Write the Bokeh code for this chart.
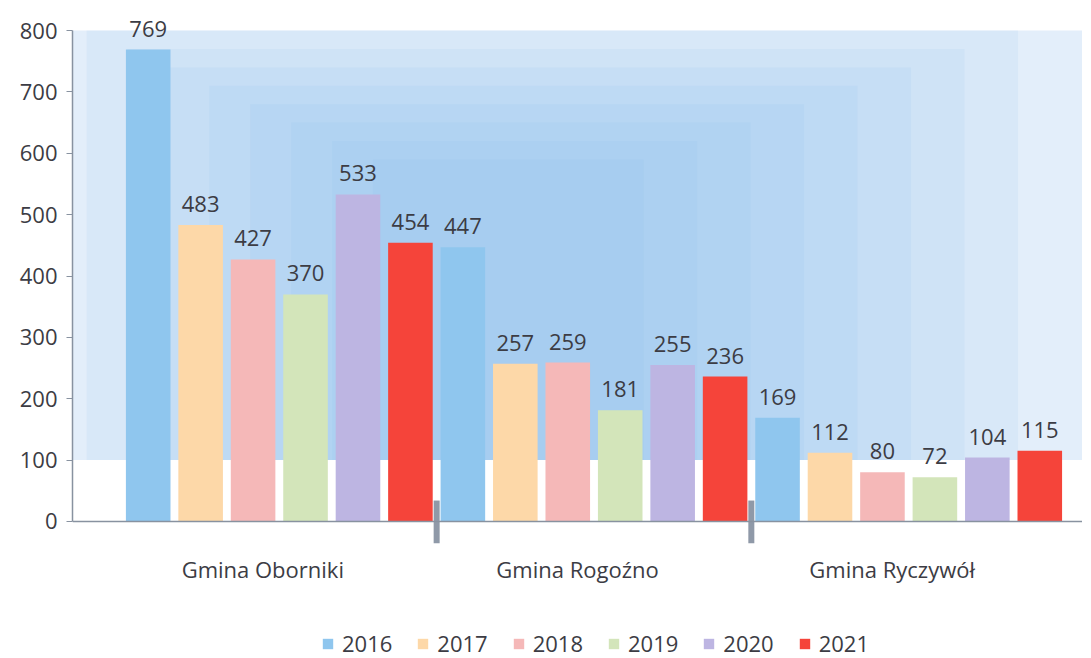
from bokeh.plotting import figure
from bokeh.layouts import column
from bokeh.models import (FactorRange, Range1d, BoxAnnotation, Span, Legend, LegendItem,
                          ColumnDataSource, FixedTicker)
from bokeh.transform import dodge
from bokeh.core.properties import value
from bokeh.embed import file_html
from bokeh.resources import INLINE

groups = ["Gmina Oborniki", "Gmina Rogoźno", "Gmina Ryczywół"]
years = ["2016", "2017", "2018", "2019", "2020", "2021"]
v2016 = [769, 447, 169]
v2017 = [483, 257, 112]
v2018 = [427, 259, 80]
v2019 = [370, 181, 72]
v2020 = [533, 255, 104]
v2021 = [454, 236, 115]
series = [v2016, v2017, v2018, v2019, v2020, v2021]
colors = ["#8fc6ee", "#fdd8a8", "#f5b8b8", "#d3e5ba", "#bdb5e2", "#f5443a"]
y_ticks = [0, 100, 200, 300, 400, 500, 600, 700, 800]

TEXT = "#3c3c44"
FONT = "Open Sans"

data = {"group": groups}
for y, vals in zip(years, series):
    data["v" + y] = vals
    data["t" + y] = [str(v) for v in vals]
src = ColumnDataSource(data)
sep_src = ColumnDataSource({"group": groups[1:]})

shift = 0.0524
x_range = FactorRange(*groups, range_padding=2 * shift, range_padding_units="absolute")
y_range = Range1d(-36, 836)

p = figure(x_range=x_range, y_range=y_range, frame_width=1010, frame_height=535,
           min_border_left=72, min_border_right=0, min_border_top=8, min_border_bottom=50,
           output_backend="svg", toolbar_location=None, outline_line_color=None,
           background_fill_color="white", border_fill_color="white")

# light blue backdrop: soft glow built from layered translucent boxes
p.add_layout(BoxAnnotation(bottom=100, top=800, fill_color="#e3eefa", fill_alpha=1.0,
                           line_color=None, level="underlay"))
for k in range(8):
    p.add_layout(BoxAnnotation(bottom=100, top=800 - k * 30,
                               left=-0.06 + k * 0.13, right=2.9 - k * 0.17,
                               fill_color="#7db8ee", fill_alpha=0.1,
                               line_color=None, level="underlay"))

width = 0.85 / 6
for i, (y, c) in enumerate(zip(years, colors)):
    off = (i - 2.5) / 6 + shift
    p.vbar(x=dodge("group", off, range=p.x_range), top="v" + y, width=width,
           source=src, fill_color=c, line_color=None)
    p.text(x=dodge("group", off, range=p.x_range), y="v" + y, text="t" + y, source=src,
           text_align="center", text_baseline="alphabetic", y_offset=-21,
           text_font=value(FONT), text_font_size="22px", text_color=TEXT)

# group separators
p.segment(x0=dodge("group", -0.5 + shift, range=p.x_range), y0=-36,
          x1=dodge("group", -0.5 + shift, range=p.x_range), y1=34,
          source=sep_src, line_color="#8f99a8", line_width=6)

# baseline
p.add_layout(Span(location=0, dimension="width", line_color="#8892a0", line_width=1.5))

p.xgrid.grid_line_color = None
p.ygrid.grid_line_color = None

ya = p.yaxis[0]
ya.ticker = FixedTicker(ticks=y_ticks)
ya.bounds = (0, 800)
ya.axis_line_color = "#8892a0"
ya.axis_line_width = 1.5
ya.major_tick_line_color = "#8892a0"
ya.major_tick_out = 6
ya.major_tick_in = 0
ya.minor_tick_line_color = None
ya.major_label_text_font = FONT
ya.major_label_text_font_size = "22px"
ya.major_label_text_color = TEXT
ya.major_label_standoff = 9

xa = p.xaxis[0]
xa.axis_line_color = None
xa.major_tick_line_color = None
xa.major_tick_out = 0
xa.minor_tick_line_color = None
xa.major_label_text_font = FONT
xa.major_label_text_font_size = "22px"
xa.major_label_text_color = TEXT
xa.major_label_standoff = 10

# legend strip below the chart (zero-height key swatches carry the colours)
leg = figure(width=1082, height=65, output_backend="svg", toolbar_location=None,
             x_axis_type=None, y_axis_type=None, min_border=0, outline_line_color=None,
             background_fill_color="white", border_fill_color="white",
             x_range=Range1d(0, 1), y_range=Range1d(1, 2))
leg.xgrid.grid_line_color = None
leg.ygrid.grid_line_color = None
leg_renderers = [leg.vbar(x=[0.5], top=[0], bottom=[0], width=0.01, fill_color=c,
                          line_color=None) for c in colors]
legend = Legend(items=[LegendItem(label=y, renderers=[r]) for y, r in zip(years, leg_renderers)],
                orientation="horizontal", location=(249, 0),
                glyph_width=13, glyph_height=13, label_standoff=8, spacing=24,
                padding=0, margin=0, border_line_color=None, background_fill_alpha=0,
                label_text_font=FONT, label_text_font_size="22px", label_text_color=TEXT)
leg.add_layout(legend, "center")

layout = column(p, leg, spacing=0)
open("out.html", "w").write(file_html(layout, INLINE))
